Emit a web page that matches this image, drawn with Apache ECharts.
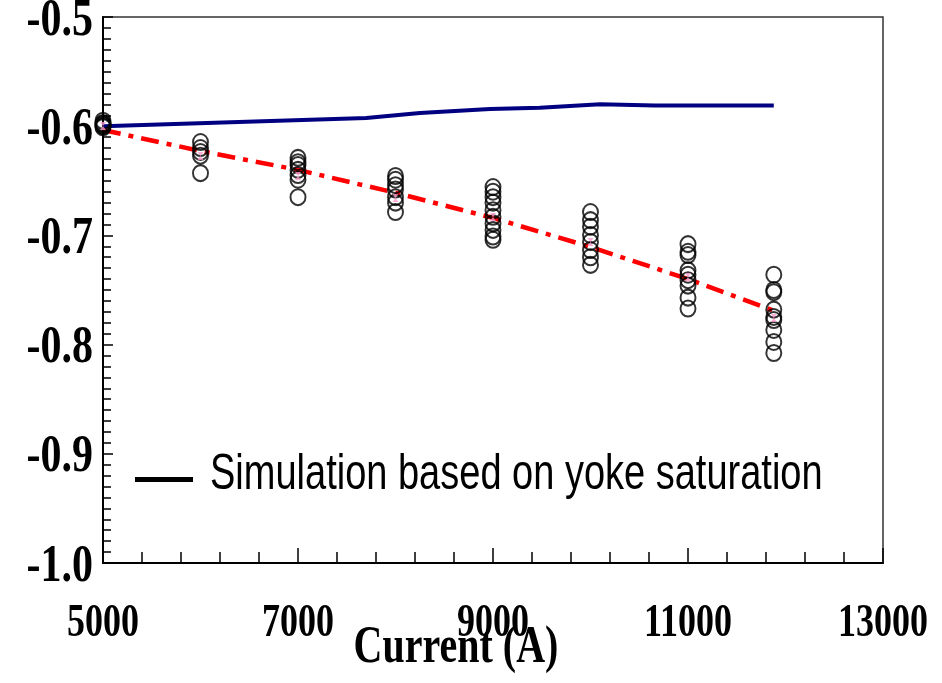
<!DOCTYPE html>
<html>
<head>
<meta charset="utf-8">
<script src="https://cdn.jsdelivr.net/npm/echarts@6/dist/echarts.min.js"></script>
<style>
  html, body { margin: 0; padding: 0; background: #fff; }
  #chart { width: 942px; height: 683px; }
</style>
</head>
<body>
<div id="chart"></div>
<script>
// Measured field points at each excitation current (A)
const currents = [5000, 6000, 7000, 8000, 9000, 10000, 11000, 11880];
const measured = [
  [-0.595, -0.597, -0.598, -0.599, -0.600, -0.601],
  [-0.6145, -0.620, -0.6236, -0.627, -0.643],
  [-0.629, -0.633, -0.6355, -0.640, -0.6447, -0.649, -0.665],
  [-0.6456, -0.649, -0.654, -0.658, -0.665, -0.670, -0.6786],
  [-0.6557, -0.660, -0.665, -0.670, -0.677, -0.683, -0.689, -0.695, -0.701, -0.704],
  [-0.6786, -0.686, -0.692, -0.6996, -0.706, -0.7134, -0.720, -0.727],
  [-0.708, -0.715, -0.718, -0.732, -0.736, -0.741, -0.746, -0.757, -0.767],
  [-0.736, -0.750, -0.752, -0.768, -0.7747, -0.7775, -0.7866, -0.7976, -0.8077]
];
// Average of the measurements at each current
const meanValues = [-0.5998, -0.6273, -0.6456, -0.6658, -0.6832, -0.706, -0.738, -0.7756];
// Trend through the measurements
const trendValues = [-0.6035, -0.6227, -0.640, -0.661, -0.684, -0.7106, -0.740, -0.769];
// Simulation based on yoke saturation
const simCurrent = [5000, 7700, 8250, 8970, 9480, 10100, 10660, 11880];
const simValue = [-0.600, -0.5925, -0.588, -0.5842, -0.583, -0.580, -0.581, -0.581];

const xTicks = [5000, 7000, 9000, 11000, 13000];
const yTicks = [-1.0, -0.9, -0.8, -0.7, -0.6, -0.5];
const xTitle = 'Current (A)';
const legendLabel = 'Simulation based on yoke saturation';

const scatterData = [];
currents.forEach((c, i) => measured[i].forEach(v => scatterData.push([c, v])));

const SERIF = '"Liberation Serif", "Times New Roman", serif';
const SANS = '"Liberation Sans", Arial, sans-serif';

const chart = echarts.init(document.getElementById('chart'), null, { renderer: 'canvas' });
chart.setOption({
  animation: false,
  backgroundColor: '#fff',
  grid: { left: 103, right: 59, top: 17, bottom: 120, outerBoundsMode: 'none', containLabel: false,
          show: true, borderColor: '#333', borderWidth: 1.5 },
  xAxis: {
    type: 'value', min: 5000, max: 13000, interval: 2000,
    axisLine: { show: true, lineStyle: { color: '#000', width: 2 } },
    axisTick: { show: true, inside: true, length: 15, lineStyle: { color: '#000', width: 1.5 } },
    minorTick: { show: true, splitNumber: 5, length: 11, lineStyle: { color: '#000', width: 1.5 } },
    splitLine: { show: false },
    axisLabel: { show: false }
  },
  yAxis: {
    type: 'value', min: -1.0, max: -0.5, interval: 0.1,
    axisLine: { show: true, lineStyle: { color: '#000', width: 2 } },
    axisTick: { show: true, inside: true, length: 10, lineStyle: { color: '#000', width: 1.5 } },
    minorTick: { show: true, splitNumber: 10, length: 8, lineStyle: { color: '#000', width: 1.5 } },
    splitLine: { show: false },
    axisLabel: { show: false }
  },
  series: [
    {
      name: legendLabel, type: 'line',
      data: simCurrent.map((c, i) => [c, simValue[i]]),
      symbol: 'none', lineStyle: { color: '#000080', width: 4 }, itemStyle: { color: '#000080' }, z: 3
    },
    {
      name: 'Trend', type: 'line',
      data: currents.map((c, i) => [c, trendValues[i]]),
      symbol: 'none', lineStyle: { color: '#ff0000', width: 4.5, type: [18, 8, 5, 8] }, z: 4
    },
    {
      name: 'Measured', type: 'scatter',
      data: scatterData,
      symbol: 'circle', symbolSize: [15, 16],
      itemStyle: { color: 'rgba(0,0,0,0)', borderColor: '#000', borderWidth: 2 }, z: 5
    },
    {
      name: 'Mean', type: 'scatter',
      data: currents.map((c, i) => [c, meanValues[i]]),
      symbol: 'path://M0,0 L6,0 L3,4 L6,8 L0,8 L3,4 Z', symbolSize: [6, 8],
      itemStyle: { color: '#ff99cc' }, z: 6
    }
  ]
});

// Tick labels, axis title and key, placed through the axis scales
function tallText(x, y, text, font, align, stretch) {
  return {
    type: 'text', x: x, y: y, scaleY: stretch, z: 10,
    style: { text: text, font: font, fill: '#000', align: align, verticalAlign: 'middle' }
  };
}
const marks = [];
xTicks.forEach(v => {
  const px = chart.convertToPixel({ xAxisIndex: 0 }, v);
  marks.push(tallText(px, 624, String(v), 'bold 36px ' + SERIF, 'center', 1.3));
});
yTicks.forEach(v => {
  const py = chart.convertToPixel({ yAxisIndex: 0 }, v);
  marks.push(tallText(93, py + 4, v.toFixed(1), 'bold 42px ' + SERIF, 'right', 1.25));
});
marks.push(tallText(456, 649, xTitle, 'bold 40px ' + SERIF, 'center', 1.3));
marks.push({ type: 'rect', shape: { x: 135, y: 477, width: 58, height: 5 }, style: { fill: '#000' }, z: 10 });
marks.push(tallText(210, 475, legendLabel, '38px ' + SANS, 'left', 1.3));
chart.setOption({ graphic: { elements: marks } });
</script>
</body>
</html>
